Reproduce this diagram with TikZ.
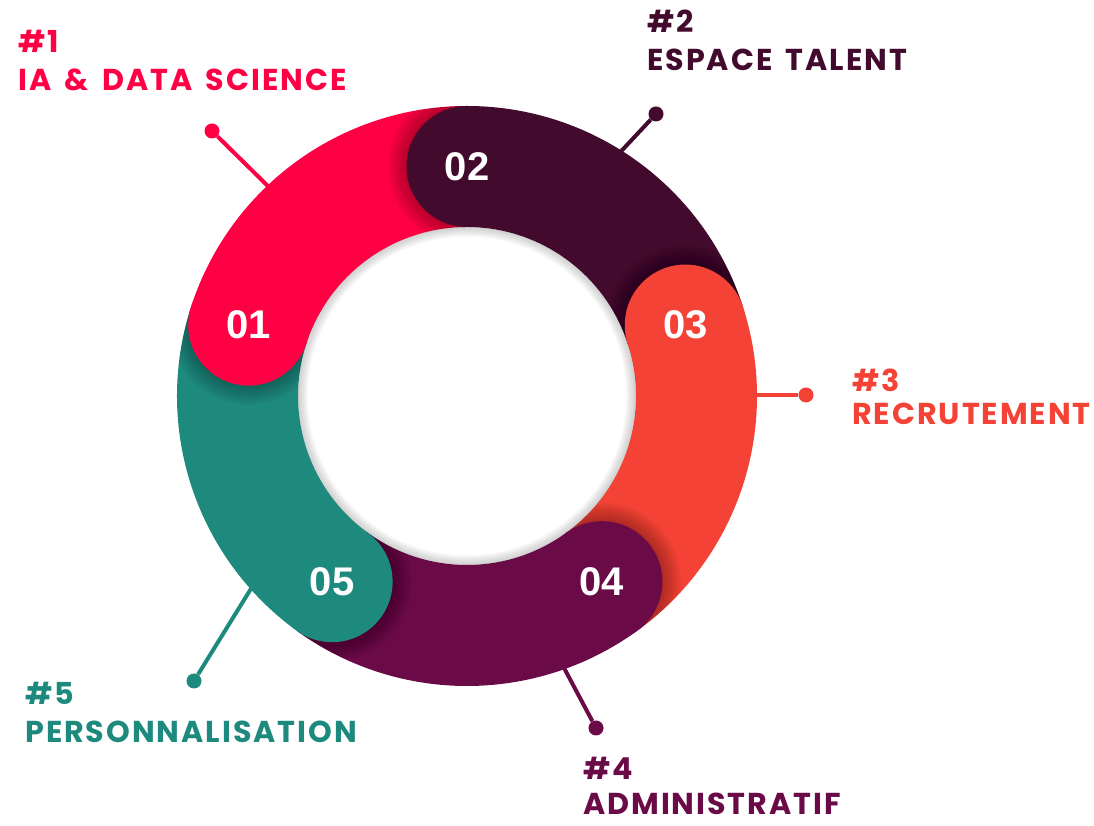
\documentclass[tikz,border=0pt]{standalone}
\usepackage{fontspec}
\setmainfont{Liberation Sans}
\newfontfamily\tagfont{Poppins}[LetterSpace=6.5, WordSpace=1.6]
\usetikzlibrary{positioning}
\usetikzlibrary{calc}

\definecolor{ringred}{HTML}{FF0044}
\definecolor{ringdark}{HTML}{420A2C}
\definecolor{ringorange}{HTML}{F44336}
\definecolor{ringpurple}{HTML}{6A0A47}
\definecolor{ringteal}{HTML}{1E8A7E}

\tikzstyle{num} = [text=white, font=\fontsize{40}{40}\selectfont\bfseries]
\tikzstyle{tag} = [anchor=base west, inner sep=0pt, font=\tagfont\fontsize{30.2}{30.2}\selectfont\bfseries]
\tikzstyle{leader} = [line width=4pt]
\tikzstyle{dot} = [circle, inner sep=0pt, minimum size=15pt]

\begin{document}
\begin{tikzpicture}[x=1pt, y=1pt]
  \useasboundingbox (0,0) rectangle (1094,826);
  \coordinate (O) at (467,430);

  % leader lines, under the ring
  \node[dot, fill=ringred] (d1) at (212,695) {};
  \node[dot, fill=ringdark] (d2) at (656,712) {};
  \node[dot, fill=ringorange] (d3) at (806,431) {};
  \node[dot, fill=ringpurple] (d4) at (596,98) {};
  \node[dot, fill=ringteal] (d5) at (194,145) {};
  \coordinate (l1) at (280,628);
  \coordinate (l2) at (612,665);
  \coordinate (l3) at (740,431);
  \coordinate (l4) at (555,175);
  \coordinate (l5) at (265,260);
  \draw[leader, ringred] (l1) -- (d1);
  \draw[leader, ringdark] (l2) -- (d2);
  \draw[leader, ringorange] (l3) -- (d3);
  \draw[leader, ringpurple] (l4) -- (d4);
  \draw[leader, ringteal] (l5) -- (d5);

  % ring
  \foreach \a/\c in {162/ringred, 90/ringdark, 18/ringorange, -54/ringpurple, -126/ringteal}
    \draw[line width=121pt, \c] ($(O)+(\a:229.5)$) arc[start angle=\a, end angle=\a-72, radius=229.5];

  % shadow inside the hole
  \begin{scope}
    \clip (O) circle (169);
    \foreach \s in {1,...,10}
      \draw[black, opacity=0.02, line width=\s*2pt] (O) circle (169);
  \end{scope}

  % rounded heads
  \foreach \i/\a/\c in {1/162/ringred, 2/90/ringdark, 3/18/ringorange, 4/-54/ringpurple, 5/-126/ringteal} {
    \begin{scope}
      \clip ($(O)+(\a:290)$) arc[start angle=\a, end angle=\a+72, radius=290]
        -- ($(O)+(\a+72:169)$) arc[start angle=\a+72, end angle=\a, radius=169] -- cycle;
      \foreach \s in {1,...,12}
        \fill[black, opacity=0.022] ($(O)+(\a:229.5)$) circle (60.5+\s*1.6);
    \end{scope}
    \fill[\c] ($(O)+(\a:229.5)$) circle (60.5);
    \node[num] (n\i) at ($(O)+(\a:229.5)$) {0\i};
  }

  % labels
  \node[tag, text=ringred] (h1) at (18,773) {\#1};
  \node[tag, text=ringred] (t1) at (18,735) {IA \& DATA SCIENCE};
  \node[tag, text=ringdark] (h2) at (647,793) {\#2};
  \node[tag, text=ringdark] (t2) at (647,755) {ESPACE TALENT};
  \node[tag, text=ringorange] (h3) at (852,434) {\#3};
  \node[tag, text=ringorange] (t3) at (852,401) {RECRUTEMENT};
  \node[tag, text=ringpurple] (h4) at (583,46) {\#4};
  \node[tag, text=ringpurple] (t4) at (583,11) {ADMINISTRATIF};
  \node[tag, text=ringteal] (h5) at (25,121) {\#5};
  \node[tag, text=ringteal] (t5) at (25,83) {PERSONNALISATION};
\end{tikzpicture}
\end{document}
